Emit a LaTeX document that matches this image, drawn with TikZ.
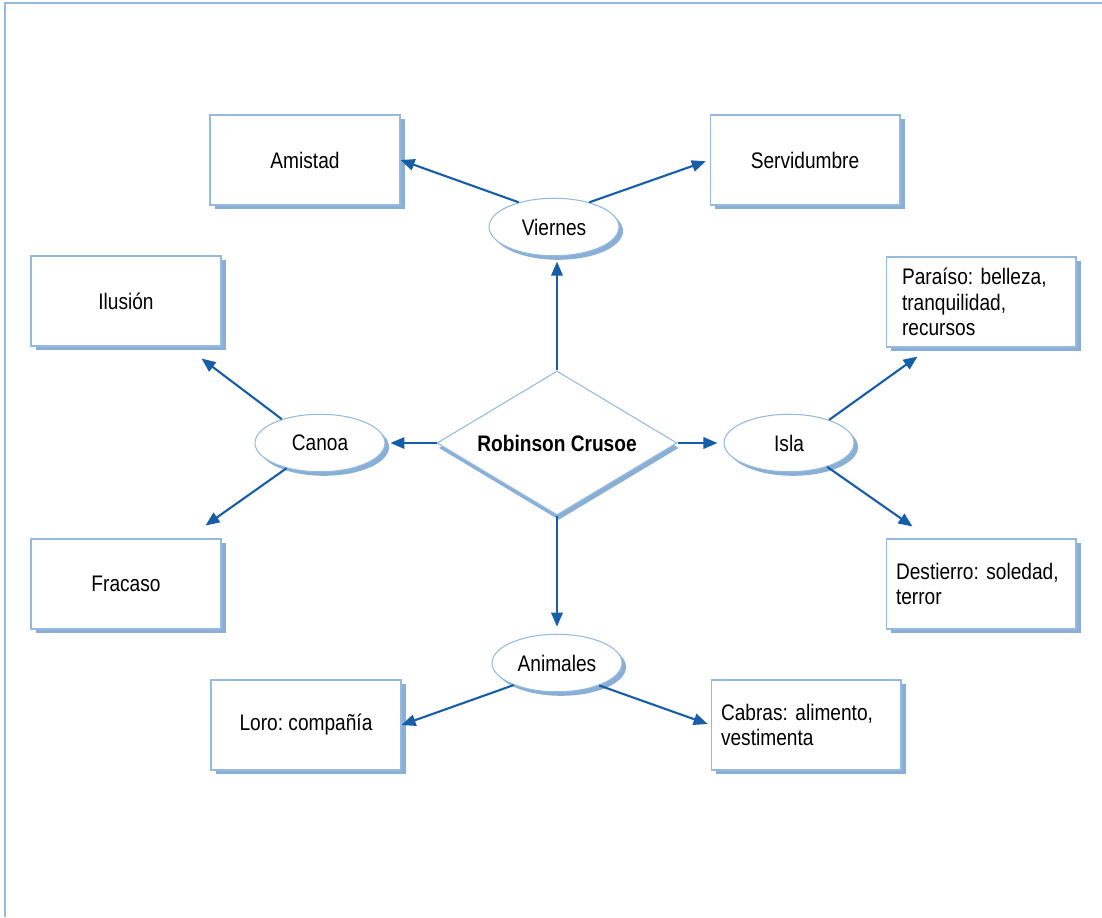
\documentclass[tikz,border=0pt]{standalone}
\usepackage{fontspec}
\setmainfont[FakeStretch=0.85]{Liberation Sans}
\usetikzlibrary{shapes.geometric,shadows,arrows.meta}
\definecolor{linkblue}{RGB}{22,94,168}
\definecolor{edgeblue}{RGB}{150,185,222}
\definecolor{shadeblue}{RGB}{137,175,214}
\frenchspacing

\begin{document}
\begin{tikzpicture}[x=0.02cm, y=-0.02cm, >={Triangle[length=8pt,width=6.5pt]},
    font=\fontsize{12.8}{14.5}\selectfont,
    box/.style={draw=edgeblue, line width=0.6pt, fill=white, rectangle, minimum width=3.8cm, minimum height=1.8cm,
        drop shadow={shadow xshift=2.8pt, shadow yshift=-2.3pt, opacity=1, fill=shadeblue}},
    leftbox/.style={box, align=left, text width=3.4cm, inner xsep=0.2cm},
    topic/.style={draw=edgeblue, line width=0.6pt, fill=white, ellipse, minimum width=2.6cm, minimum height=1.15cm, inner sep=0pt,
        drop shadow={shadow xshift=2.3pt, shadow yshift=-2.3pt, opacity=1, fill=shadeblue}},
    link/.style={->, draw=linkblue, line width=1.2pt}]
    \useasboundingbox (0,0) rectangle (1102,917);
    \draw[edgeblue, line width=1.4pt] (5,917) -- (5,3) -- (1102,3);

    % Centre
    \node[draw=edgeblue, line width=0.6pt, fill=white, diamond, aspect=1.667, minimum width=4.8cm, minimum height=2.88cm, inner sep=0pt,
        drop shadow={shadow xshift=1pt, shadow yshift=-2.8pt, opacity=1, fill=shadeblue}] (crusoe) at (557,443) {\textbf{Robinson Crusoe}};

    % Topics
    \node[topic] (viernes) at (554,227) {Viernes};
    \node[topic] (canoa) at (320,443) {Canoa};
    \node[topic] (isla) at (789,443) {Isla};
    \node[topic] (animales) at (557,663) {Animales};

    % Boxes
    \node[box] (amistad) at (305,160) {Amistad};
    \node[box] (servidumbre) at (805,160) {Servidumbre};
    \node[box] (ilusion) at (126,301) {Ilusión};
    \node[box] (fracaso) at (126,584) {Fracaso};
    \node[leftbox, text width=3.16cm, inner xsep=0.32cm] (paraiso) at (981,302) {Paraíso: belleza,\\ tranquilidad,\\ recursos};
    \node[leftbox] (destierro) at (981,584) {Destierro: soledad,\\ terror};
    \node[box] (loro) at (306,725) {Loro: compañía};
    \node[leftbox] (cabras) at (806,725) {Cabras: alimento,\\ vestimenta};

    % Arrows
    \draw[link, shorten >=3pt] (crusoe.north) -- (crusoe.north |- viernes.south);
    \draw[link, shorten >=2.8pt] (crusoe.west) -- (canoa);
    \draw[link, shorten >=3.4pt] (crusoe.east) -- (isla);
    \draw[link, shorten >=4pt] (crusoe.south) -- (animales);
    \draw[link] (viernes.145) -- (amistad.east);
    \draw[link, shorten >=2.2pt] (viernes.35) -- (servidumbre.west);
    \draw[link] (canoa.148) -- ([shift={(-20,12)}]ilusion.south east);
    \draw[link] (canoa.217) -- ([shift={(-16,-13)}]fracaso.north east);
    \draw[link] (isla.30) -- ([shift={(32,9)}]paraiso.south west);
    \draw[link] (isla.-32) -- ([shift={(27,-12)}]destierro.north west);
    \draw[link] (animales.207) -- (loro.east);
    \draw[link, shorten >=1.7pt] (animales.-28) -- (cabras.west);
\end{tikzpicture}
\end{document}
